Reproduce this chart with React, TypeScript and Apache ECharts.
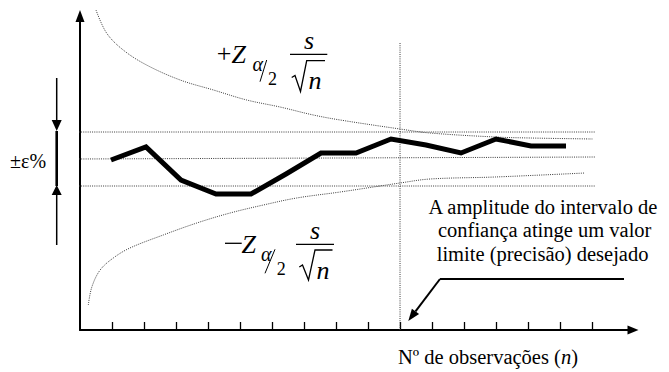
import React, { useEffect, useRef } from "react";
import * as echarts from "echarts";

// Observed sample mean (schematic), observation index 1..14
const obsN = [1, 2, 3, 4, 5, 6, 7, 8, 9, 10, 11, 12, 13, 14];
const obsValue = [17.0, 18.3, 15.0, 13.6, 13.6, 15.6, 17.7, 17.7, 19.1, 18.5, 17.7, 19.1, 18.4, 18.4];

// Upper confidence bound curve (+Z s/sqrt(n))
const upperX = [0.5, 0.83, 1.35, 2.08, 3.13, 4.17, 5.21, 6.25, 7.29, 8.13, 10.0, 10.94, 12.97, 14.06, 16.03];
const upperY = [32.0, 29.7, 28.0, 26.5, 25.0, 24.0, 23.0, 22.3, 21.5, 21.0, 20.1, 19.7, 19.3, 19.2, 19.1];

// Lower confidence bound curve (-Z s/sqrt(n))
const lowerX = [0.26, 0.37, 0.63, 1.04, 1.56, 2.6, 3.65, 4.69, 5.73, 6.77, 8.13, 10.0, 10.94, 12.97, 15.78];
const lowerY = [2.5, 4.3, 6.0, 7.2, 8.2, 9.5, 10.7, 11.7, 12.5, 13.2, 13.8, 14.7, 15.1, 15.3, 15.7];

// Reference lines: +eps, centre, -eps
const refStartX = [-1.41, -0.1, -1.41];
const refEndX = [16.1, 16.1, 16.1];
const refStartY = [19.8, 17.1, 14.4];
const refEndY = [19.8, 17.3, 14.4];

// Vertical line where the precision limit is reached
const limitX = 10;
const limitTop = 28.7;

// x axis ticks
const tickValues = [1, 2, 3, 4, 5, 6, 7, 8, 9, 10, 11, 12, 13, 14, 15, 16];

const annotationLines = [
  "A amplitude do intervalo de",
  "confiança atinge um valor",
  "limite (precisão) desejado",
];
const xAxisTitle = "Nº de observações (";

const SERIF = "Liberation Serif";
const DOT_COLOR = "#3a3a3a";

export default function App() {
  const ref = useRef<HTMLDivElement>(null);

  useEffect(() => {
    if (!ref.current) return;
    const chart = echarts.init(ref.current, undefined, { renderer: "svg" });

    const dotted = {
      color: DOT_COLOR,
      width: 1,
      type: [1, 1.2] as number[],
    };

    const refSeries = refStartX.map((sx, i) => ({
      type: "line",
      xAxisIndex: 0,
      yAxisIndex: 0,
      data: [
        [sx, refStartY[i]],
        [refEndX[i], refEndY[i]],
      ],
      symbol: "none",
      clip: false,
      silent: true,
      lineStyle: dotted,
      z: 2,
    }));

    // left/top anchored text (top = visual centre - size/2)
    const txt = (text: string, x: number, yTop: number, size: number) => ({
      type: "text",
      x,
      y: yTop,
      style: { text, fontFamily: SERIF, fontSize: size, fill: "#000" },
    });
    const itxt = (text: string, x: number, yTop: number, size: number) => ({
      type: "text",
      x,
      y: yTop,
      style: { text, fontFamily: SERIF, fontSize: size, fontStyle: "italic", fill: "#000" },
    });
    const ln = (x1: number, y1: number, x2: number, y2: number, w: number) => ({
      type: "line",
      silent: true,
      z: 20,
      shape: { x1, y1, x2, y2 },
      style: { stroke: "#000", lineWidth: w },
    });
    const poly = (points: number[][]) => ({
      type: "polygon",
      silent: true,
      z: 20,
      shape: { points },
      style: { fill: "#000" },
    });
    const pline = (points: number[][], w: number) => ({
      type: "polyline",
      silent: true,
      z: 20,
      shape: { points },
      style: { stroke: "#000", lineWidth: w, fill: "none" },
    });

    const option: any = {
      animation: false,
      textStyle: { fontFamily: SERIF },
      grid: {
        left: 80,
        top: 16,
        right: 36,
        bottom: 42,
        containLabel: false,
      },
      xAxis: [
        {
          type: "value",
          min: 0,
          max: 17.28,
          axisLine: {
            show: true,
            symbol: ["none", "triangle"],
            symbolSize: [9, 11],
            lineStyle: { color: "#000", width: 2 },
          },
          axisTick: {
            show: true,
            inside: true,
            length: 8,
            customValues: tickValues,
            lineStyle: { color: "#000", width: 1.3 },
          },
          axisLabel: { show: false },
          splitLine: { show: false },
        },
        {
          type: "value",
          min: 0.114,
          max: 15.914,
          show: false,
          splitLine: { show: false },
        },
      ],
      yAxis: {
        type: "value",
        min: 0,
        max: 31.4,
        axisLine: {
          show: true,
          symbol: ["none", "triangle"],
          symbolSize: [9, 12],
          lineStyle: { color: "#000", width: 2 },
        },
        axisTick: { show: false },
        axisLabel: { show: false },
        splitLine: { show: false },
      },
      series: [
        ...refSeries,
        {
          type: "line",
          xAxisIndex: 0,
          data: [
            [limitX, 0],
            [limitX, limitTop],
          ],
          symbol: "none",
          clip: false,
          silent: true,
          lineStyle: dotted,
          z: 2,
        },
        {
          type: "line",
          xAxisIndex: 0,
          data: upperX.map((x, i) => [x, upperY[i]]),
          symbol: "none",
          smooth: 0.35,
          clip: false,
          silent: true,
          lineStyle: dotted,
          z: 2,
        },
        {
          type: "line",
          xAxisIndex: 0,
          data: lowerX.map((x, i) => [x, lowerY[i]]),
          symbol: "none",
          smooth: 0.35,
          clip: false,
          silent: true,
          lineStyle: dotted,
          z: 2,
        },
        {
          type: "line",
          xAxisIndex: 1,
          data: obsN.map((n, i) => [n, obsValue[i]]),
          symbol: "none",
          clip: false,
          silent: true,
          lineStyle: { color: "#000", width: 5, cap: "butt", join: "miter" },
          z: 5,
        },
      ],
      graphic: [
        // annotation text
        txt(annotationLines[0], 428.5, 196.25, 20.5),
        txt(annotationLines[1], 438, 219.75, 20.5),
        txt(annotationLines[2], 436.7, 243.25, 20.5),

        // x-axis title
        {
          type: "text",
          x: 398,
          y: 346.25,
          style: {
            text: "{a|" + xAxisTitle + "}{b|n}{a|)}",
            fontFamily: SERIF,
            fontSize: 20.5,
            fill: "#000",
            rich: {
              a: { fontFamily: SERIF, fontSize: 20.5, fill: "#000" },
              b: { fontFamily: SERIF, fontSize: 20.5, fontStyle: "italic", fill: "#000" },
            },
          },
        },

        // ±ε% indicator
        txt("±ε%", 10, 150.5, 20),
        ln(56.7, 78, 56.7, 121, 1.5),
        poly([
          [51.7, 120],
          [61.7, 120],
          [56.7, 131],
        ]),
        ln(56.7, 131, 56.7, 186, 2.6),
        poly([
          [56.7, 185],
          [51.7, 195],
          [61.7, 195],
        ]),
        ln(56.7, 194, 56.7, 245, 1.5),

        // upper formula  + Z α/2  s/√n
        txt("+", 216.7, 40.5, 26),
        itxt("Z", 231.5, 41.5, 26),
        itxt("α", 252.5, 53.5, 20),
        ln(266.7, 60, 260, 81.7, 1),
        txt("2", 268, 70, 18),
        ln(290, 54.3, 327.3, 54.3, 1.3),
        itxt("s", 304, 27, 26),
        pline(
          [
            [291.7, 77.5],
            [295, 75.5],
            [300.5, 91.5],
            [306.7, 60.7],
            [325, 60.7],
          ],
          1.3
        ),
        itxt("n", 308.5, 67, 26),

        // lower formula  − Z α/2  s/√n
        ln(225, 243.3, 241.7, 243.3, 1.3),
        itxt("Z", 241.5, 231.5, 26),
        itxt("α", 261, 243.5, 20),
        ln(275, 249.3, 265, 273.3, 1),
        txt("2", 276.7, 260, 18),
        ln(296, 244.3, 334, 244.3, 1.3),
        itxt("s", 310, 217, 26),
        pline(
          [
            [299.3, 267],
            [302.5, 265],
            [308.5, 280],
            [315, 250],
            [332.5, 250],
          ],
          1.3
        ),
        itxt("n", 316.5, 257, 26),

        // annotation arrow
        ln(624, 279, 440, 279, 2),
        ln(440, 279, 415.5, 311.4, 2),
        poly([
          [408.3, 321],
          [419.1, 314.1],
          [411.9, 308.7],
        ]),
      ],
    };

    chart.setOption(option);
    return () => chart.dispose();
  }, []);

  return (
    <div>
      <style>{`#chart-root svg text, #chart-root svg tspan { font-family: "Liberation Serif", "Times New Roman", serif !important; }`}</style>
      <div
        id="chart-root"
        ref={ref}
        style={{
          position: "absolute",
          left: 0,
          top: 0,
          width: 669,
          height: 372,
          background: "#fff",
          fontFamily: "Liberation Serif",
        }}
      />
    </div>
  );
}
